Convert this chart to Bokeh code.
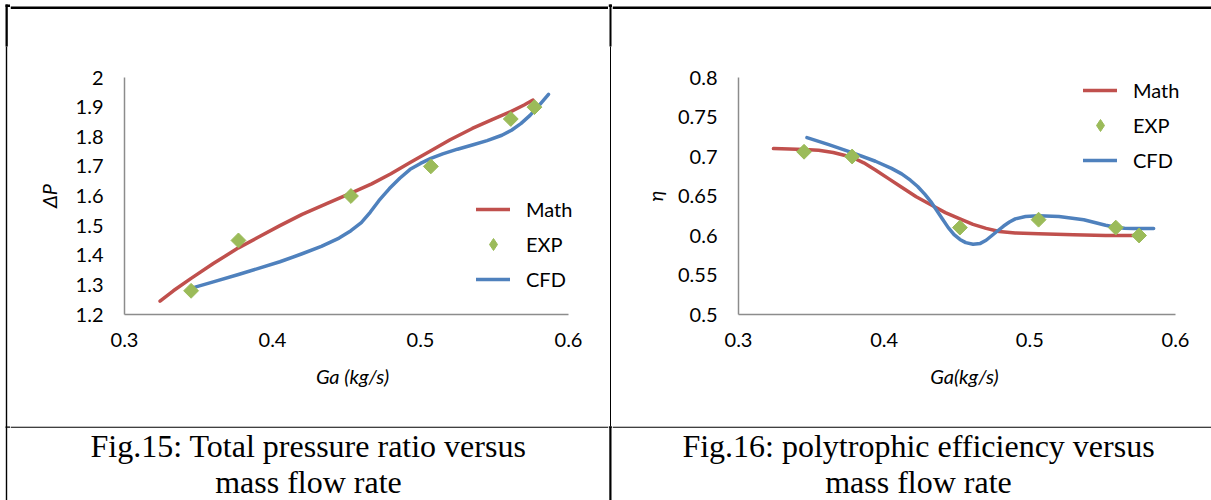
import numpy as np
from bokeh.plotting import figure
from bokeh.layouts import row, column
from bokeh.models import Range1d, FixedTicker, Legend, LegendItem
from bokeh.core.properties import value
from bokeh.embed import file_html
from bokeh.resources import INLINE

# ---------------- data ----------------
# Fig.15 : total pressure ratio vs mass flow rate
ga_exp_dp = [0.345, 0.377, 0.453, 0.507, 0.561, 0.577]
dp_exp = [1.28, 1.45, 1.60, 1.70, 1.86, 1.90]

ga_math_dp = [0.324, 0.333, 0.345, 0.360, 0.377, 0.390, 0.405, 0.420, 0.437, 0.453,
              0.467, 0.480, 0.493, 0.507, 0.520, 0.535, 0.548, 0.561, 0.570, 0.576]
dp_math = [1.245, 1.280, 1.322, 1.372, 1.425, 1.460, 1.500, 1.538, 1.575, 1.610,
           1.641, 1.675, 1.713, 1.753, 1.790, 1.828, 1.857, 1.885, 1.907, 1.924]

ga_cfd_dp = [0.346, 0.360, 0.377, 0.390, 0.405, 0.420, 0.433, 0.445, 0.453, 0.460,
             0.466, 0.472, 0.479, 0.486, 0.493, 0.500, 0.507, 0.515, 0.525, 0.535,
             0.545, 0.555, 0.5615, 0.568, 0.574, 0.580, 0.5865]
dp_cfd = [1.290, 1.310, 1.335, 1.355, 1.378, 1.405, 1.430, 1.458, 1.483, 1.510,
          1.545, 1.585, 1.625, 1.660, 1.690, 1.710, 1.727, 1.742, 1.758, 1.772,
          1.787, 1.805, 1.822, 1.845, 1.872, 1.905, 1.943]

# Fig.16 : polytropic efficiency vs mass flow rate
ga_exp_eta = [0.345, 0.378, 0.452, 0.506, 0.559, 0.575]
eta_exp = [0.706, 0.700, 0.610, 0.620, 0.610, 0.600]

ga_math_eta = [0.324, 0.335, 0.345, 0.355, 0.365, 0.378, 0.386, 0.394, 0.403, 0.412,
               0.422, 0.433, 0.442, 0.452, 0.461, 0.470, 0.479, 0.490, 0.506, 0.530,
               0.552, 0.575]
eta_math = [0.710, 0.7095, 0.709, 0.708, 0.705, 0.699, 0.692, 0.683, 0.672, 0.661,
            0.649, 0.638, 0.629, 0.621, 0.614, 0.609, 0.605, 0.6032, 0.6022, 0.601,
            0.600, 0.600]

ga_cfd_eta = [0.347, 0.362, 0.378, 0.394, 0.405, 0.412, 0.418, 0.423, 0.428, 0.432,
              0.436, 0.440, 0.444, 0.448, 0.452, 0.456, 0.461, 0.466, 0.470, 0.474,
              0.478, 0.482, 0.486, 0.490, 0.497, 0.506, 0.520, 0.537, 0.552, 0.559,
              0.565, 0.571, 0.585]
eta_cfd = [0.724, 0.715, 0.705, 0.694, 0.685, 0.678, 0.670, 0.662, 0.652, 0.643,
           0.632, 0.621, 0.610, 0.601, 0.595, 0.591, 0.589, 0.590, 0.594, 0.600,
           0.606, 0.612, 0.617, 0.621, 0.624, 0.625, 0.624, 0.620, 0.613, 0.6105,
           0.6092, 0.609, 0.609]

x_ticks = [0.3, 0.4, 0.5, 0.6]
x_tick_labels = ["0.3", "0.4", "0.5", "0.6"]
dp_ticks = [1.2, 1.3, 1.4, 1.5, 1.6, 1.7, 1.8, 1.9, 2.0]
dp_tick_labels = ["1.2", "1.3", "1.4", "1.5", "1.6", "1.7", "1.8", "1.9", "2"]
eta_ticks = [0.5, 0.55, 0.6, 0.65, 0.7, 0.75, 0.8]
eta_tick_labels = ["0.5", "0.55", "0.6", "0.65", "0.7", "0.75", "0.8"]

series_names = ["Math", "EXP", "CFD"]
captions_15 = ["Fig.15: Total pressure ratio versus", "mass flow rate"]
captions_16 = ["Fig.16: polytrophic efficiency versus", "mass flow rate"]

# ---------------- styling ----------------
FONT = "Lato"
RED = "#C0504D"
BLUE = "#4F81BD"
GREEN = "#9BBB59"
AXIS = "#8C8C8C"

# page geometry (pixels)
BAND_L = 10      # left border strip
COL_L = 598      # left cell width
BAND_M = 4       # middle border strip
COL_R = 599      # right cell width
TOP_H = 10       # top border strip
CHART_H = 416
CAP_H = 74


def make_chart(width, bleft, bright, x_end, yr, yticks, ylabels, xtitle, ytitle, ystand,
               mx, my, ex, ey, cx, cy, legend_loc):
    p = figure(width=width, height=CHART_H, x_range=Range1d(0.3, x_end), y_range=Range1d(*yr),
               output_backend="svg", toolbar_location=None, frame_align=False,
               min_border_left=bleft, min_border_right=bright,
               min_border_top=67, min_border_bottom=112)
    p.xgrid.visible = False
    p.ygrid.visible = False
    p.outline_line_color = None
    p.background_fill_color = "white"
    p.border_fill_color = "white"
    p.xaxis.ticker = FixedTicker(ticks=x_ticks)
    p.xaxis.major_label_overrides = dict(zip(x_ticks, x_tick_labels))
    p.xaxis.bounds = (x_ticks[0], x_ticks[-1])
    p.yaxis.ticker = FixedTicker(ticks=yticks)
    p.yaxis.major_label_overrides = dict(zip(yticks, ylabels))
    for ax in (p.xaxis[0], p.yaxis[0]):
        ax.axis_line_color = AXIS
        ax.axis_line_width = 1.5
        ax.major_tick_line_color = None
        ax.minor_tick_line_color = None
        ax.major_tick_out = 0
        ax.major_tick_in = 0
        ax.major_label_text_font = FONT
        ax.major_label_text_font_size = "20px"
        ax.major_label_text_color = "black"
        ax.axis_label_text_font = FONT
        ax.axis_label_text_font_style = "italic"
        ax.axis_label_text_font_size = "20px"
        ax.axis_label_text_color = "black"
    p.xaxis.major_label_standoff = 18
    p.yaxis.major_label_standoff = 21
    p.xaxis.axis_label = xtitle
    p.yaxis.axis_label = ytitle
    p.xaxis.axis_label_standoff = 14
    p.yaxis.axis_label_standoff = ystand

    r_m = p.line(mx, my, line_color=RED, line_width=3.5, line_cap="round", line_join="round")
    r_c = p.line(cx, cy, line_color=BLUE, line_width=3.5, line_cap="round", line_join="round")
    p.scatter(ex, ey, marker="square", angle=np.pi / 4, size=10.5,
              fill_color=GREEN, line_color=GREEN)
    # renderer that only supplies the diamond swatch for the legend
    r_e_leg = p.scatter([np.nan], [np.nan], marker="diamond",
                        fill_color=GREEN, line_color=GREEN)

    leg = Legend(items=[LegendItem(label=series_names[0], renderers=[r_m]),
                        LegendItem(label=series_names[1], renderers=[r_e_leg]),
                        LegendItem(label=series_names[2], renderers=[r_c])],
                 location=legend_loc, orientation="vertical")
    leg.border_line_color = None
    leg.background_fill_alpha = 0
    leg.padding = 0
    leg.margin = 0
    leg.spacing = 5
    leg.glyph_width = 34
    leg.glyph_height = 30
    leg.label_height = 20
    leg.label_standoff = 16
    leg.label_text_font = FONT
    leg.label_text_font_size = "20px"
    leg.label_text_color = "black"
    p.add_layout(leg)
    return p


def pixel_fig(w, h):
    p = figure(width=w, height=h, x_range=Range1d(0, w), y_range=Range1d(h, 0),
               output_backend="svg", toolbar_location=None, min_border=0,
               frame_align=False, x_axis_type=None, y_axis_type=None)
    p.grid.visible = False
    p.outline_line_color = None
    p.background_fill_color = "white"
    p.border_fill_color = "white"
    return p


def rules(p, boxes):
    # boxes: list of (left, right, top, bottom) in the strip's own pixels
    p.quad(left=[b[0] for b in boxes], right=[b[1] for b in boxes],
           top=[b[2] for b in boxes], bottom=[b[3] for b in boxes],
           fill_color="black", line_color=None)


def caption_fig(w, cx, lines):
    p = pixel_fig(w, CAP_H)
    rules(p, [(0, w, 0, 1.2)])
    p.text(x=[cx, cx], y=[19, 55], text=lines,
           text_font=value("Liberation Serif"), text_font_size=value("32px"),
           text_align="center", text_baseline="alphabetic", text_color="black")
    return p


H = TOP_H + CHART_H + CAP_H
HL = TOP_H + CHART_H  # y of the horizontal rule

# left chart: 0.3 -> x=124, 0.6 -> x=568 (page px); frame runs a little past 0.6
x0_l = BAND_L
fr_l = 580
left_chart = make_chart(COL_L, 124 - x0_l, x0_l + COL_L - fr_l,
                        0.3 + 0.3 * (fr_l - 124) / (568 - 124), (1.2, 2.0),
                        dp_ticks, dp_tick_labels, "Ga (kg/s)", "ΔP", 12,
                        ga_math_dp, dp_math, ga_exp_dp, dp_exp, ga_cfd_dp, dp_cfd, (352, 20))
# right chart: 0.3 -> x=738, 0.6 -> x=1175
x0_r = BAND_L + COL_L + BAND_M
fr_r = 1190
right_chart = make_chart(COL_R, 738 - x0_r, x0_r + COL_R - fr_r,
                         0.3 + 0.3 * (fr_r - 738) / (1175 - 738), (0.5, 0.8),
                         eta_ticks, eta_tick_labels, "Ga(kg/s)", "η", 8,
                         ga_math_eta, eta_math, ga_exp_eta, eta_exp, ga_cfd_eta, eta_cfd,
                         (345, 139))

# border strips
band_l = pixel_fig(BAND_L, H)
rules(band_l, [(5, BAND_L, 4, 6.5), (5, 7.3, 4, 46), (5.3, 6.7, 46, H), (5, BAND_L, HL, HL + 1.2)])
band_m = pixel_fig(BAND_M, H)
rules(band_m, [(0, BAND_M, 4, 6.5), (1, 3, 4, 46), (1.5, 2.5, 46, HL), (0.8, 3, HL, H),
               (0, BAND_M, HL, HL + 1.2)])
top_l = pixel_fig(COL_L, TOP_H)
rules(top_l, [(0, COL_L, 4, 6.5)])
top_r = pixel_fig(COL_R, TOP_H)
rules(top_r, [(0, COL_R, 4, 6.5)])

cap_l = caption_fig(COL_L, 308 - x0_l, captions_15)
cap_r = caption_fig(COL_R, 918 - x0_r, captions_16)

layout = row(band_l,
             column(top_l, left_chart, cap_l, spacing=0),
             band_m,
             column(top_r, right_chart, cap_r, spacing=0),
             spacing=0)

with open("out.html", "w") as f:
    f.write(file_html(layout, INLINE))
